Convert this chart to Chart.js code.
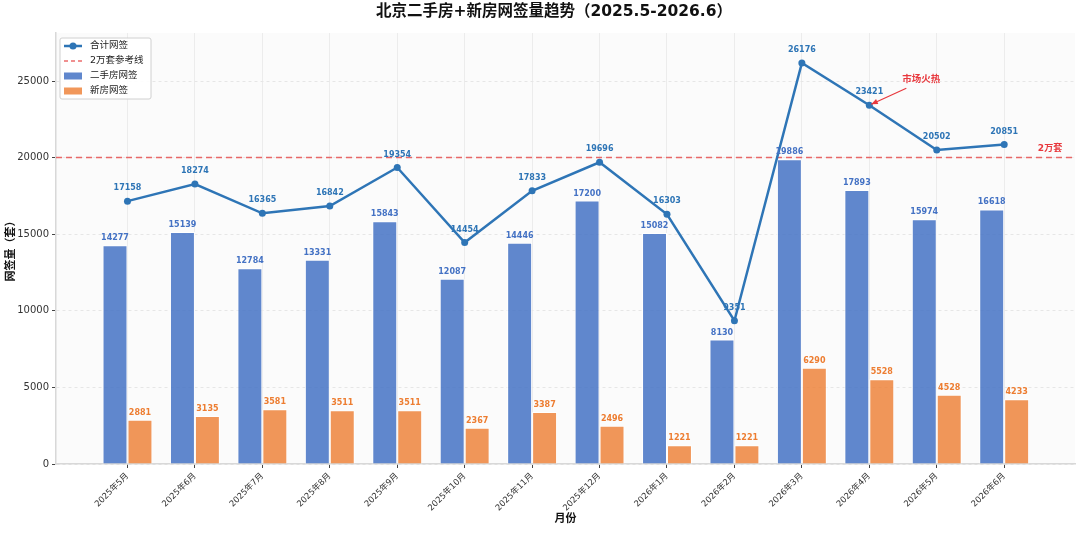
<!DOCTYPE html>
<html lang="zh">
<head>
<meta charset="UTF-8">
<title>北京二手房+新房网签量趋势</title>
<style>
  html, body { margin: 0; padding: 0; background: #fff; }
  #wrap { width: 1080px; height: 533px; }
</style>
</head>
<body>
<div id="wrap"><canvas id="chart" width="1080" height="533"></canvas></div>
<script src="https://cdn.jsdelivr.net/npm/chart.js"></script>
<script>
// 数据
const months = ["2025年5月", "2025年6月", "2025年7月", "2025年8月", "2025年9月", "2025年10月", "2025年11月",
                "2025年12月", "2026年1月", "2026年2月", "2026年3月", "2026年4月", "2026年5月", "2026年6月"];
const secondHand = [14277, 15139, 12784, 13331, 15843, 12087, 14446, 17200, 15082, 8130, 19886, 17893, 15974, 16618];
const newHouse = [2881, 3135, 3581, 3511, 3511, 2367, 3387, 2496, 1221, 1221, 6290, 5528, 4528, 4233];
const total = [17158, 18274, 16365, 16842, 19354, 14454, 17833, 19696, 16303, 9351, 26176, 23421, 20502, 20851];
const yTicks = [0, 5000, 10000, 15000, 20000, 25000];
const refValue = 20000;

const FONT = "'DejaVu Sans', 'Noto Sans CJK SC', sans-serif";
const BLUE = "#2e75b6";
const BAR_BLUE = "rgba(68,114,196,0.85)";
const BAR_ORANGE = "rgba(237,125,49,0.8)";
const RED = "#e8383d";

const pts = arr => arr.map((v, i) => ({ x: i, y: v }));

// 背景、参考线、标注、图例、标题
const decor = {
    id: 'decor',
    beforeDraw(chart) {
        const { ctx, chartArea: a } = chart;
        ctx.save();
        ctx.fillStyle = '#fbfbfb';
        ctx.fillRect(a.left, a.top, a.right - a.left, a.bottom - a.top);
        ctx.restore();
    },
    beforeDatasetsDraw(chart) {
        const { ctx, chartArea: a, scales } = chart;
        const y = scales.y.getPixelForValue(refValue);
        ctx.save();
        ctx.strokeStyle = 'rgba(230,70,70,0.8)';
        ctx.lineWidth = 1.5;
        ctx.setLineDash([6, 4]);
        ctx.beginPath();
        ctx.moveTo(a.left, y);
        ctx.lineTo(a.right, y);
        ctx.stroke();
        ctx.restore();
    },
    afterDatasetsDraw(chart) {
        const { ctx, scales } = chart;
        const ys = scales.y;
        ctx.save();
        ctx.textAlign = 'center';
        ctx.textBaseline = 'bottom';
        ctx.font = "bold 8px " + FONT;
        // 柱子数值
        secondHand.forEach((v, i) => {
            const el = chart.getDatasetMeta(0).data[i];
            ctx.fillStyle = '#4472c4';
            ctx.fillText(v, el.x, el.y - 3);
        });
        newHouse.forEach((v, i) => {
            const el = chart.getDatasetMeta(1).data[i];
            ctx.fillStyle = '#ed7d31';
            ctx.fillText(v, el.x, el.y - 3);
        });
        // 合计数值
        total.forEach((v, i) => {
            const el = chart.getDatasetMeta(2).data[i];
            ctx.fillStyle = BLUE;
            ctx.fillText(v, el.x, el.y - 9);
        });
        // 2万套
        const ry = ys.getPixelForValue(refValue);
        ctx.fillStyle = RED;
        ctx.font = "bold 9px " + FONT;
        ctx.fillText('2万套', 1050, ry - 4);
        // 市场火热 箭头
        const p = chart.getDatasetMeta(2).data[11];
        ctx.textBaseline = 'middle';
        ctx.font = "bold 9.5px " + FONT;
        ctx.fillText('市场火热', p.x + 52, p.y - 26);
        const sx = p.x + 37, sy = p.y - 17, ex = p.x + 2, ey = p.y - 1;
        ctx.strokeStyle = RED;
        ctx.lineWidth = 1.2;
        ctx.beginPath();
        ctx.moveTo(sx, sy);
        ctx.lineTo(ex, ey);
        ctx.stroke();
        const ang = Math.atan2(ey - sy, ex - sx);
        ctx.beginPath();
        ctx.moveTo(ex, ey);
        ctx.lineTo(ex - 7 * Math.cos(ang - 0.4), ey - 7 * Math.sin(ang - 0.4));
        ctx.lineTo(ex - 7 * Math.cos(ang + 0.4), ey - 7 * Math.sin(ang + 0.4));
        ctx.closePath();
        ctx.fillStyle = RED;
        ctx.fill();
        ctx.restore();
    },
    afterDraw(chart) {
        const { ctx, chartArea: a } = chart;
        ctx.save();
        // 标题
        ctx.fillStyle = '#111';
        ctx.textAlign = 'center';
        ctx.textBaseline = 'middle';
        ctx.font = "bold 15.5px " + FONT;
        ctx.fillText('北京二手房+新房网签量趋势（2025.5-2026.6）', 554, 12);
        ctx.font = "bold 11px " + FONT;
        ctx.fillText('月份', (a.left + a.right) / 2, 519);
        ctx.save();
        ctx.translate(11, (a.top + a.bottom) / 2);
        ctx.rotate(-Math.PI / 2);
        ctx.fillText('网签量（套）', 0, 0);
        ctx.restore();
        // 图例
        const lx = a.left + 4, ly = a.top + 5, lw = 91, lh = 61;
        ctx.fillStyle = 'rgba(255,255,255,0.9)';
        ctx.strokeStyle = '#d0d0d0';
        ctx.lineWidth = 1;
        ctx.beginPath();
        ctx.roundRect(lx, ly, lw, lh, 2);
        ctx.fill();
        ctx.stroke();
        const items = ['合计网签', '2万套参考线', '二手房网签', '新房网签'];
        ctx.font = "9.5px " + FONT;
        ctx.textAlign = 'left';
        items.forEach((t, k) => {
            const yy = ly + 8 + k * 15;
            const x0 = lx + 4, x1 = lx + 22;
            if (k === 0) {
                ctx.strokeStyle = BLUE; ctx.lineWidth = 2.5;
                ctx.beginPath(); ctx.moveTo(x0, yy); ctx.lineTo(x1, yy); ctx.stroke();
                ctx.fillStyle = BLUE;
                ctx.beginPath(); ctx.arc((x0 + x1) / 2, yy, 3.5, 0, Math.PI * 2); ctx.fill();
            } else if (k === 1) {
                ctx.strokeStyle = 'rgba(230,70,70,0.8)'; ctx.lineWidth = 1.5;
                ctx.setLineDash([4, 3]);
                ctx.beginPath(); ctx.moveTo(x0, yy); ctx.lineTo(x1, yy); ctx.stroke();
                ctx.setLineDash([]);
            } else {
                ctx.fillStyle = k === 2 ? BAR_BLUE : BAR_ORANGE;
                ctx.fillRect(x0, yy - 3.5, x1 - x0, 7);
            }
            ctx.fillStyle = '#222';
            ctx.fillText(t, lx + 30, yy);
        });
        ctx.restore();
    }
};

new Chart(document.getElementById('chart'), {
    type: 'bar',
    data: {
        datasets: [
            {
                label: '二手房网签',
                data: pts(secondHand),
                backgroundColor: BAR_BLUE,
                borderColor: '#ffffff',
                borderWidth: 1,
                categoryPercentage: 0.74,
                barPercentage: 1.0,
                order: 2
            },
            {
                label: '新房网签',
                data: pts(newHouse),
                backgroundColor: BAR_ORANGE,
                borderColor: '#ffffff',
                borderWidth: 1,
                categoryPercentage: 0.74,
                barPercentage: 1.0,
                order: 2
            },
            {
                type: 'line',
                label: '合计网签',
                data: pts(total),
                borderColor: BLUE,
                backgroundColor: BLUE,
                borderWidth: 2.5,
                pointRadius: 3.5,
                pointBackgroundColor: BLUE,
                pointBorderWidth: 0,
                tension: 0,
                order: 1
            }
        ]
    },
    options: {
        responsive: false,
        animation: false,
        devicePixelRatio: 1,
        layout: { padding: { top: 33, right: 5, left: 0, bottom: 0 } },
        plugins: {
            legend: { display: false },
            tooltip: { enabled: false }
        },
        scales: {
            x: {
                type: 'linear',
                min: -1.06,
                max: 14.05,
                offset: false,
                afterBuildTicks(s) { s.ticks = months.map((m, i) => ({ value: i })); },
                afterFit(s) { s.height = 69; },
                ticks: {
                    callback: v => months[v],
                    autoSkip: false,
                    maxRotation: 45,
                    minRotation: 45,
                    color: '#333',
                    font: { size: 8.5, family: FONT }
                },
                grid: { offset: false, color: '#ececec', tickColor: '#444', tickLength: 4 },
                border: { color: '#d8d8d8', width: 1.5 }
            },
            y: {
                min: 0,
                max: 28134,
                afterBuildTicks(s) { s.ticks = yTicks.map(v => ({ value: v })); },
                afterFit(s) { s.width = 56; },
                ticks: {
                    callback: v => String(v),
                    color: '#333',
                    font: { size: 10, family: FONT },
                    padding: 3
                },
                grid: { color: '#e6e6e6', tickColor: '#444', tickLength: 4 },
                border: { color: '#d8d8d8', width: 1.5, dash: [3, 3] }
            }
        }
    },
    plugins: [decor]
});
</script>
</body>
</html>
